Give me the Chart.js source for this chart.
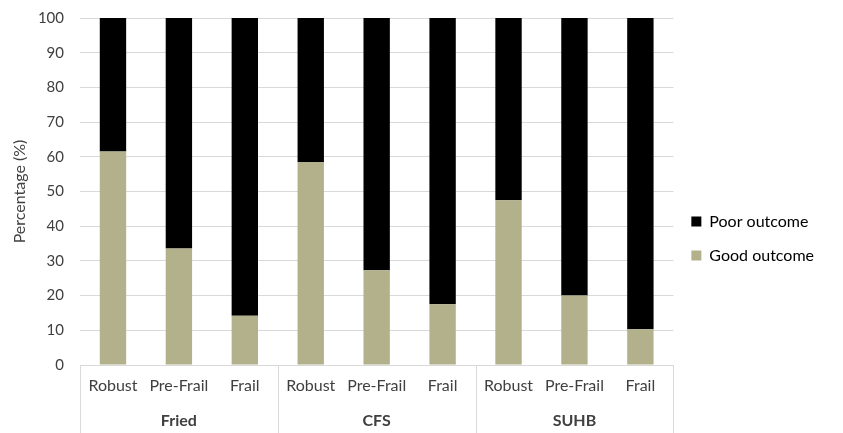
<!DOCTYPE html>
<html>
<head>
<meta charset="utf-8">
<script src="https://cdn.jsdelivr.net/npm/chart.js@4/dist/chart.umd.min.js"></script>
<style>
  html, body { margin: 0; padding: 0; background: #fff; }
  #wrap { width: 843px; height: 433px; }
</style>
</head>
<body>
<div id="wrap"><canvas id="chart"></canvas></div>
<script>
const categories = ['Robust', 'Pre-Frail', 'Frail', 'Robust', 'Pre-Frail', 'Frail', 'Robust', 'Pre-Frail', 'Frail'];
const groups = ['Fried', 'CFS', 'SUHB'];
const goodOutcome = [61.5, 33.6, 14.2, 58.5, 27.3, 17.5, 47.5, 20.0, 10.3];
const poorOutcome = [38.5, 66.4, 85.8, 41.5, 72.7, 82.5, 52.5, 80.0, 89.7];
const yTicks = [0, 10, 20, 30, 40, 50, 60, 70, 80, 90, 100];

const FONT = 'Lato, "Open Sans", sans-serif';
const TEXT = '#404040';
const LINE = '#d9d9d9';

// group names under the category labels, with the box lines between groups
const groupAxis = {
    id: 'groupAxis',
    afterDraw(chart) {
        const ctx = chart.ctx;
        const x = chart.scales.x;
        const step = x.getPixelForValue(1) - x.getPixelForValue(0);
        const top = chart.chartArea.bottom;
        ctx.save();
        ctx.strokeStyle = LINE;
        ctx.lineWidth = 1;
        for (let g = 0; g <= groups.length; g++) {
            const px = Math.round(x.getPixelForValue(g * 3) - step / 2) + 0.5;
            ctx.beginPath();
            ctx.moveTo(px, top);
            ctx.lineTo(px, chart.height);
            ctx.stroke();
        }
        ctx.fillStyle = TEXT;
        ctx.font = 'bold 16px ' + FONT;
        ctx.textAlign = 'center';
        ctx.textBaseline = 'middle';
        groups.forEach((name, g) => {
            const cx = (x.getPixelForValue(g * 3) + x.getPixelForValue(g * 3 + 2)) / 2;
            ctx.fillText(name, cx, 421);
        });
        ctx.restore();
    }
};

new Chart(document.getElementById('chart'), {
    type: 'bar',
    data: {
        labels: categories,
        datasets: [
            { label: 'Good outcome', data: goodOutcome, backgroundColor: '#b3b18b' },
            { label: 'Poor outcome', data: poorOutcome, backgroundColor: '#000000' }
        ]
    },
    options: {
        responsive: true,
        maintainAspectRatio: false,
        animation: false,
        layout: { padding: { top: 18, left: 0, right: 19, bottom: 0 } },
        datasets: { bar: { barPercentage: 0.4, categoryPercentage: 1 } },
        plugins: {
            legend: {
                position: 'right',
                reverse: true,
                title: { display: true, text: '', font: { size: 10 }, padding: { top: 0, bottom: 14 } },
                labels: {
                    font: { family: FONT, size: 16 },
                    color: '#000',
                    boxWidth: 10,
                    boxHeight: 10,
                    padding: 18
                }
            },
            tooltip: { enabled: false }
        },
        scales: {
            x: {
                stacked: true,
                grid: { display: false, drawTicks: false },
                border: { display: true, color: LINE },
                ticks: { font: { family: FONT, size: 16 }, color: TEXT, padding: 11, maxRotation: 0 },
                afterFit(scale) { scale.height = 68; }
            },
            y: {
                stacked: true,
                min: 0,
                max: 100,
                afterBuildTicks(scale) { scale.ticks = yTicks.map(v => ({ value: v })); },
                grid: { color: LINE, drawTicks: false },
                border: { display: false },
                ticks: { font: { family: FONT, size: 15 }, color: TEXT, padding: 16 },
                title: { display: true, text: 'Percentage (%)', font: { family: FONT, size: 16 }, color: TEXT, padding: { top: 10, bottom: 0 } },
                afterFit(scale) { scale.width = 80; scale.paddingTop = 0; }
            }
        }
    },
    plugins: [groupAxis]
});
</script>
</body>
</html>
